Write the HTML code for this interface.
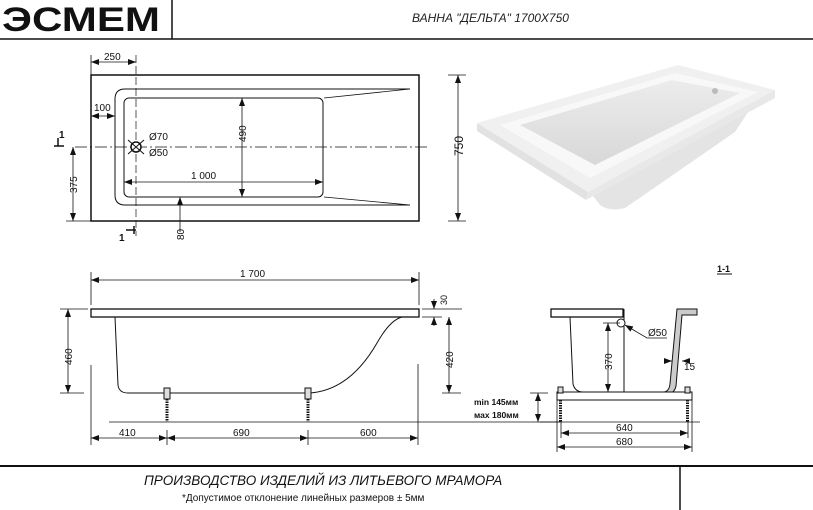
<!DOCTYPE html>
<html><head><meta charset="utf-8"><style>
html,body{margin:0;padding:0;background:#fff;}
svg{display:block;font-family:"Liberation Sans",sans-serif;}
</style></head><body>
<svg width="813" height="510" viewBox="0 0 813 510" xmlns="http://www.w3.org/2000/svg">
<defs>
<marker id="a" markerWidth="8" markerHeight="6" refX="8" refY="3" orient="auto-start-reverse" markerUnits="userSpaceOnUse"><path d="M0,0 L8,3 L0,6z" fill="#111"/></marker>
<linearGradient id="g1" x1="0" y1="0" x2="0" y2="1"><stop offset="0" stop-color="#ececec"/><stop offset="1" stop-color="#d8d8d8"/></linearGradient>
</defs>
<g fill="#fff" stroke="#111">
<!-- header -->
<text x="2" y="31" font-size="34" font-weight="bold" fill="#111" stroke="none" textLength="158" lengthAdjust="spacingAndGlyphs">ЭСМЕМ</text>
<line x1="172" y1="0" x2="172" y2="39" stroke-width="1.5"/>
<line x1="0" y1="39" x2="813" y2="39" stroke-width="1.5"/>
<text x="412" y="22" font-size="12" font-style="italic" fill="#222" stroke="none">ВАННА "ДЕЛЬТА" 1700X750</text>

<!-- plan view -->
<rect x="91" y="75" width="328" height="146" stroke-width="1.5"/>
<path d="M410,89 L125,89 Q115,89 115,99 L115,195 Q115,205 125,205 L410,205" fill="none" stroke-width="1"/>
<path d="M410,89 L324,98 M410,205 L324,197" fill="none" stroke-width="0.8"/>
<rect x="124" y="98" width="199" height="99" rx="5" fill="none" stroke-width="1"/>
<line x1="75" y1="147" x2="428" y2="147" stroke-width="0.7" stroke-dasharray="12,3,2,3"/>
<line x1="136" y1="55" x2="136" y2="236" stroke-width="0.7" stroke-dasharray="8,3"/>
<circle cx="136" cy="147" r="5" stroke-width="1.5"/>
<path d="M128,140 L144,154 M128,154 L144,140" stroke-width="1"/>
<g fill="none" stroke-width="0.8">
<line x1="91" y1="62" x2="136" y2="62" marker-start="url(#a)" marker-end="url(#a)"/>
<line x1="91" y1="55" x2="91" y2="75"/>
<line x1="91" y1="116" x2="115" y2="116" marker-start="url(#a)" marker-end="url(#a)"/>
<line x1="242" y1="98" x2="242" y2="197" marker-start="url(#a)" marker-end="url(#a)"/>
<line x1="124" y1="182" x2="323" y2="182" marker-start="url(#a)" marker-end="url(#a)"/>
<line x1="73" y1="147" x2="73" y2="221" marker-start="url(#a)" marker-end="url(#a)"/>
<line x1="66" y1="221" x2="91" y2="221"/>
<line x1="458" y1="75" x2="458" y2="221" marker-start="url(#a)" marker-end="url(#a)"/>
<line x1="448" y1="75" x2="466" y2="75"/><line x1="448" y1="221" x2="466" y2="221"/>
<line x1="180" y1="232" x2="180" y2="197" marker-end="url(#a)"/>
<line x1="54" y1="146" x2="64" y2="146" stroke-width="1.5"/><line x1="58" y1="138" x2="58" y2="146" stroke-width="1.5"/>
<line x1="126" y1="230" x2="136" y2="230" stroke-width="1.5"/><line x1="134" y1="226" x2="134" y2="234" stroke-width="1.5"/>
</g>
<g fill="#111" stroke="none" font-size="10">
<text x="104" y="60">250</text>
<text x="94" y="111">100</text>
<text x="149" y="140">Ø70</text>
<text x="149" y="156">Ø50</text>
<text x="191" y="179">1 000</text>
<text transform="translate(246,142) rotate(-90)">490</text>
<text transform="translate(77,193) rotate(-90)">375</text>
<text transform="translate(463,156) rotate(-90)" font-size="12">750</text>
<text transform="translate(184,240) rotate(-90)">80</text>
<text x="59" y="138" font-weight="bold">1</text>
<text x="119" y="241" font-weight="bold">1</text>
</g>

<!-- photo -->
<g stroke="none">
<path d="M590,192 L600,205 Q610,212 625,208 L735,132 L748,112 L745,100 Z" fill="#e4e4e4"/>
<path d="M477,123 L678,65 L775,90 L588,192 Z" fill="#f0f0f0"/>
<path d="M477,123 L477,131 L586,200 L588,192 Z" fill="#e2e2e2"/>
<path d="M588,192 L586,200 L775,98 L775,90 Z" fill="#e8e8e8"/>
<path d="M500,125 L675,73 L758,92 L590,178 Z" fill="#f8f8f8"/>
<path d="M520,125 L672,80 L740,93 L595,165 Z" fill="url(#g1)"/>
<circle cx="715" cy="91" r="3" fill="#bbb"/>
</g>

<!-- side view -->
<rect x="91" y="309" width="328" height="8" stroke-width="1.3"/>
<path d="M115,317 L118,385 Q119,393 128,393 L310,393 Q350,390 377,343 Q390,320 402,317" fill="none" stroke-width="1"/>
<g stroke-width="1" fill="#ddd">
<rect x="164" y="388" width="6" height="11"/><rect x="305" y="388" width="6" height="11"/>
<line x1="167" y1="399" x2="167" y2="422" stroke-width="3" stroke-dasharray="1.5,1"/>
<line x1="308" y1="399" x2="308" y2="422" stroke-width="3" stroke-dasharray="1.5,1"/>
</g>
<line x1="109" y1="422" x2="560" y2="422" stroke-width="0.8"/>
<g fill="none" stroke-width="0.8">
<line x1="91" y1="280" x2="419" y2="280" marker-start="url(#a)" marker-end="url(#a)"/>
<line x1="91" y1="272" x2="91" y2="305"/><line x1="419" y1="272" x2="419" y2="305"/>
<line x1="68" y1="309" x2="68" y2="393" marker-start="url(#a)" marker-end="url(#a)"/>
<line x1="60" y1="309" x2="88" y2="309"/><line x1="60" y1="393" x2="84" y2="393"/>
<line x1="434" y1="299" x2="434" y2="309" marker-end="url(#a)"/>
<line x1="434" y1="326" x2="434" y2="317" marker-end="url(#a)"/>
<line x1="422" y1="309" x2="462" y2="309"/><line x1="422" y1="317" x2="442" y2="317"/>
<line x1="449" y1="317" x2="449" y2="393" marker-start="url(#a)" marker-end="url(#a)"/>
<line x1="442" y1="393" x2="461" y2="393"/>
<line x1="91" y1="438" x2="167" y2="438" marker-start="url(#a)" marker-end="url(#a)"/>
<line x1="167" y1="438" x2="308" y2="438" marker-start="url(#a)" marker-end="url(#a)"/>
<line x1="308" y1="438" x2="418" y2="438" marker-end="url(#a)"/>
<line x1="91" y1="365" x2="91" y2="445"/><line x1="167" y1="430" x2="167" y2="445"/><line x1="308" y1="430" x2="308" y2="445"/>
<line x1="418" y1="364" x2="418" y2="445"/>
<line x1="538" y1="393" x2="538" y2="422" marker-start="url(#a)" marker-end="url(#a)"/>
<line x1="530" y1="393" x2="548" y2="393"/>
</g>
<g fill="#111" stroke="none" font-size="10">
<text x="240" y="277">1 700</text>
<text transform="translate(72,365) rotate(-90)">460</text>
<text transform="translate(447,305) rotate(-90)" font-size="9">30</text>
<text transform="translate(453,368) rotate(-90)">420</text>
<text x="119" y="436">410</text>
<text x="233" y="436">690</text>
<text x="360" y="436">600</text>
<text x="474" y="405" font-size="8.5" font-weight="bold">min 145мм</text>
<text x="474" y="418" font-size="8.5" font-weight="bold">мах 180мм</text>
</g>

<!-- section 1-1 -->
<rect x="551" y="309" width="72" height="8" stroke-width="1.3"/>
<path d="M570,317 L573,384 Q575,392 583,392 L624,392" fill="none" stroke-width="1"/>
<line x1="624" y1="309" x2="624" y2="392" stroke-width="1"/>
<path d="M624,392 L663,392 Q669,392 670,384 L677,309 L697,309 L697,315 L682,315 L676,386 Q674,395 664,395 L624,395 Z" fill="#ccc" stroke-width="1"/>
<rect x="557" y="392" width="135" height="8" stroke-width="1"/>
<g stroke-width="1" fill="#ddd">
<rect x="558" y="387" width="5" height="6"/><rect x="685" y="387" width="5" height="6"/>
<line x1="560.5" y1="400" x2="560.5" y2="422" stroke-width="3" stroke-dasharray="1.5,1"/>
<line x1="687.5" y1="400" x2="687.5" y2="422" stroke-width="3" stroke-dasharray="1.5,1"/>
</g>
<circle cx="621" cy="323" r="4" stroke-width="1"/>
<line x1="540" y1="422" x2="700" y2="422" stroke-width="0.8"/>
<g fill="none" stroke-width="0.8">
<line x1="608" y1="323" x2="608" y2="392" marker-start="url(#a)" marker-end="url(#a)"/>
<line x1="603" y1="323" x2="620" y2="323"/>
<path d="M667,338 L647,338 L625,325" marker-end="url(#a)"/>
<line x1="664" y1="361" x2="672" y2="361" marker-end="url(#a)"/>
<line x1="688" y1="361" x2="682" y2="361" marker-end="url(#a)"/>
<line x1="561" y1="433" x2="688" y2="433" marker-start="url(#a)" marker-end="url(#a)"/>
<line x1="557" y1="447" x2="692" y2="447" marker-start="url(#a)" marker-end="url(#a)"/>
<line x1="557" y1="400" x2="557" y2="452"/><line x1="692" y1="400" x2="692" y2="452"/>
<line x1="561" y1="422" x2="561" y2="438"/><line x1="688" y1="422" x2="688" y2="438"/>
</g>
<g fill="#111" stroke="none" font-size="10">
<text transform="translate(612,370) rotate(-90)">370</text>
<text x="648" y="336">Ø50</text>
<text x="684" y="370">15</text>
<text x="616" y="431">640</text>
<text x="616" y="445">680</text>
<text x="717" y="272" font-size="9" font-weight="bold">1-1</text>
</g>
<line x1="717" y1="274" x2="732" y2="274" stroke-width="1"/>

<!-- footer -->
<line x1="0" y1="466" x2="813" y2="466" stroke-width="2"/>
<line x1="680" y1="466" x2="680" y2="510" stroke-width="1.5"/>
<g fill="#111" stroke="none">
<text x="144" y="485" font-size="13.5" font-style="italic">ПРОИЗВОДСТВО ИЗДЕЛИЙ ИЗ ЛИТЬЕВОГО МРАМОРА</text>
<text x="182" y="501" font-size="10">*Допустимое отклонение линейных размеров  ± 5мм</text>
</g>
</g>
</svg>
</body></html>
